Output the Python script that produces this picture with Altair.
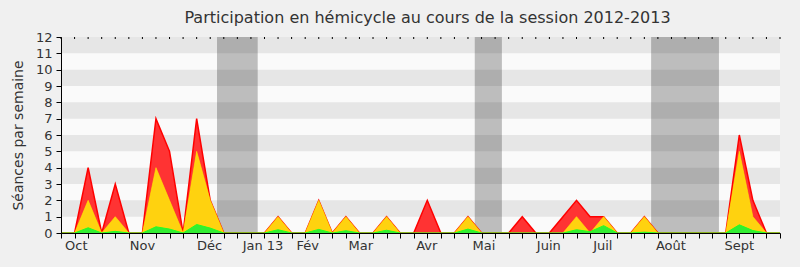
import altair as alt
import pandas as pd

# weekly series (week index 0..53)
weeks = list(range(54))
red = [0, 0, 4, 0, 3, 0, 0, 7, 5, 0, 7, 2, 0, 0, 0, 0, 1, 0, 0, 2, 0, 1, 0, 0, 1, 0, 0, 2,
       0, 0, 1, 0, 0, 0, 1, 0, 0, 1, 2, 1, 1, 0, 0, 1, 0, 0, 0, 0, 0, 0, 6, 2, 0, 0]
yellow = [0, 0, 2, 0, 1, 0, 0, 4, 2, 0, 5, 2, 0, 0, 0, 0, 1, 0, 0, 2, 0, 1, 0, 0, 1, 0, 0, 0,
          0, 0, 1, 0, 0, 0, 0, 0, 0, 0, 1, 0, 1, 0, 0, 1, 0, 0, 0, 0, 0, 0, 5, 1, 0, 0]
green = [0, 0, 0.32, 0, 0.1, 0, 0, 0.38, 0.24, 0, 0.52, 0.3, 0, 0, 0, 0, 0.2, 0, 0, 0.22, 0,
         0.14, 0, 0, 0.17, 0, 0, 0, 0, 0, 0.24, 0, 0, 0, 0, 0, 0, 0, 0.2, 0.08, 0.45, 0, 0,
         0.05, 0, 0, 0, 0, 0, 0, 0.5, 0.15, 0, 0]

month_labels = ["Oct", "Nov", "Déc", "Jan 13", "Fév", "Mar", "Avr", "Mai", "Juin", "Juil", "Août", "Sept"]
month_pos = [1.13, 6.0, 10.96, 14.89, 18.19, 22.1, 26.96, 31.17, 35.96, 39.94, 44.96, 50.0]

vac_start = [11.5, 30.5, 43.5]
vac_end = [14.5, 32.5, 48.5]

stripe_lo = [1, 3, 5, 7, 9, 11]

W, H = 719, 196
FONT = "DejaVu Sans"
XDOM = [0, 53]

df = pd.DataFrame({"week": weeks, "red": red, "yellow": yellow, "green": green})
stripes_df = pd.DataFrame({"lo": stripe_lo, "hi": [v + 1 for v in stripe_lo], "x0": [0] * 6, "x1": [53] * 6})
vac_df = pd.DataFrame({"s": vac_start, "e": vac_end})
months_df = pd.DataFrame({"pos": month_pos, "label": month_labels})

xscale = alt.Scale(domain=XDOM, nice=False, zero=False)
yscale = alt.Scale(domain=[0, 12], nice=False)

x_axis = alt.Axis(values=list(range(54)), labels=False, tickSize=5,
                  tickColor="#000", domainColor="#000", title=None,
                  grid=False, zindex=1)
y_axis = alt.Axis(values=list(range(13)), title="Séances par semaine",
                  tickSize=5, tickColor="#000", domainColor="#000",
                  labelColor="#333", labelFontSize=13, labelFont=FONT,
                  labelPadding=4, titleFont=FONT, titleFontSize=14,
                  titleFontWeight="normal", titleColor="#333",
                  titlePadding=10, grid=False, zindex=1)

stripes = alt.Chart(stripes_df).mark_rect(color="#e6e6e6").encode(
    x=alt.X("x0:Q", scale=xscale, axis=x_axis), x2="x1:Q",
    y=alt.Y("lo:Q", scale=yscale, axis=y_axis), y2="hi:Q",
)

vac = alt.Chart(vac_df).mark_rect(color="#000", opacity=0.245).encode(
    x=alt.X("s:Q", scale=xscale, axis=x_axis), x2="e:Q",
    y=alt.value(0), y2=alt.value(H),
)

top_ticks = alt.Chart(df).mark_rule(color="#000", strokeWidth=1).encode(
    x=alt.X("week:Q", scale=xscale, axis=x_axis),
    y=alt.value(0), y2=alt.value(2),
)

red_area = alt.Chart(df).mark_area(color="#ff3333", line={"color": "#ff0000", "strokeWidth": 1.5},
                                   opacity=1).encode(
    x=alt.X("week:Q", scale=xscale, axis=x_axis),
    y=alt.Y("red:Q", scale=yscale, axis=y_axis),
)

yellow_area = alt.Chart(df).mark_area(color="#ffd20f",
                                      line={"color": "#ffee00", "strokeWidth": 1, "opacity": 0.6},
                                      opacity=1).encode(
    x=alt.X("week:Q", scale=xscale, axis=x_axis),
    y=alt.Y("yellow:Q", scale=yscale, axis=y_axis),
)

green_area = alt.Chart(df).mark_area(color="#33ee33", line={"color": "#22ff22", "strokeWidth": 1},
                                     opacity=1).encode(
    x=alt.X("week:Q", scale=xscale, axis=x_axis),
    y=alt.Y("green:Q", scale=yscale, axis=y_axis),
)

months = alt.Chart(months_df).mark_text(font=FONT, fontSize=13, color="#333",
                                        align="center", baseline="alphabetic").encode(
    x=alt.X("pos:Q", scale=xscale, axis=x_axis),
    y=alt.value(H + 17),
    text="label:N",
)

chart = alt.layer(stripes, vac, top_ticks, red_area, yellow_area, green_area, months).properties(
    width=W, height=H,
    title=alt.TitleParams("Participation en hémicycle au cours de la session 2012-2013",
                          font=FONT, fontSize=16, fontWeight="normal", color="#333",
                          anchor="middle", frame="group", dx=7, offset=5),
    autosize=alt.AutoSizeParams(type="none"),
    padding={"left": 61, "top": 37, "right": 20, "bottom": 34},
    background="#f0f0f0",
).configure_view(fill="#fafafa", stroke=None)

chart.save("out.html", embed_options={"renderer": "svg", "actions": False})
